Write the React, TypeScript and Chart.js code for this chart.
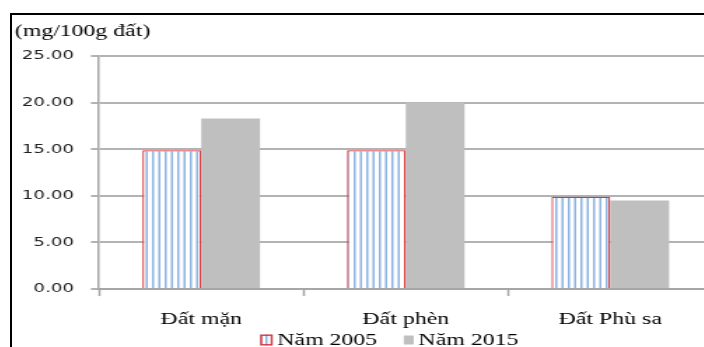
import React, { useEffect, useRef } from "react";
import { Chart, registerables } from "chart.js";

Chart.register(...registerables);

const categories: string[] = ["Đất mặn", "Đất phèn", "Đất Phù sa"];
const values2005: number[] = [14.9, 14.9, 9.9];
const values2015: number[] = [18.3, 20.0, 9.5];
const seriesLabels: string[] = ["Năm 2005", "Năm 2015"];
const unitLabel = "(mg/100g đất)";
const yTicks = { min: 0, max: 25, step: 5 };

const STRETCH = 1.4;
const CW = 543;
const CH = 332;
const SERIF = "'Liberation Serif', 'Times New Roman', serif";

function makeStripePattern(): CanvasPattern | string {
  const tile = document.createElement("canvas");
  tile.width = 9;
  tile.height = 10;
  const t = tile.getContext("2d");
  if (!t) return "#8db4e2";
  t.fillStyle = "#ffffff";
  t.fillRect(0, 0, 9, 10);
  t.fillStyle = "#8db4e2";
  t.fillRect(1, 0, 1.5, 10);
  t.fillRect(5.5, 0, 1.5, 10);
  const c = document.createElement("canvas").getContext("2d");
  const p = c ? c.createPattern(tile, "repeat") : null;
  return p || "#8db4e2";
}

// Legend drawn with tighter control over item spacing than the built-in one allows
const bottomLegend = {
  id: "bottomLegend",
  afterDraw(chart: any) {
    const ctx: CanvasRenderingContext2D = chart.ctx;
    const dsets = chart.data.datasets;
    const gapText = 3.4;
    const gapItem = 19;
    const cy = 325;
    ctx.save();
    ctx.font = `17px ${SERIF}`;
    ctx.textBaseline = "middle";
    ctx.textAlign = "left";
    const items = dsets.map((d: any) => {
      const bordered = !!d.borderWidth;
      return {
        d,
        bordered,
        bw: bordered ? 8.8 : 7.1,
        bh: bordered ? 11 : 9,
        tw: ctx.measureText(d.label).width,
      };
    });
    let total = 0;
    items.forEach((it: any, i: number) => {
      total += it.bw + gapText + it.tw + (i > 0 ? gapItem : 0);
    });
    let x = chart.width / 2 - 2 - total / 2;
    items.forEach((it: any) => {
      const d = it.d;
      const top = cy - it.bh / 2;
      ctx.fillStyle = d.backgroundColor;
      ctx.fillRect(x, top, it.bw, it.bh);
      if (it.bordered) {
        ctx.strokeStyle = d.borderColor;
        ctx.lineWidth = 1.4;
        ctx.strokeRect(x + 0.7, top + 0.7, it.bw - 1.4, it.bh - 1.4);
      }
      x += it.bw + gapText;
      ctx.fillStyle = "#000";
      ctx.fillText(d.label, x, cy + 1);
      x += it.tw + gapItem;
    });
    ctx.restore();
  },
};

export default function App() {
  const ref = useRef<HTMLCanvasElement | null>(null);

  useEffect(() => {
    if (!ref.current) return;
    const stripes = makeStripePattern();
    const gridColor = "#b3b3b3";
    const chart = new Chart(ref.current, {
      type: "bar",
      data: {
        labels: categories,
        datasets: [
          {
            label: seriesLabels[0],
            data: values2005,
            backgroundColor: stripes as any,
            borderColor: "#d9363a",
            borderWidth: 1.3,
            borderSkipped: "start",
            yAxisID: "y",
          },
          {
            label: seriesLabels[1],
            data: values2015,
            backgroundColor: "#bfbfbf",
            borderWidth: 0,
            yAxisID: "y",
          },
        ],
      },
      options: {
        responsive: false,
        animation: false,
        devicePixelRatio: 1,
        layout: { padding: { left: 2, right: 0, top: 0, bottom: 3.5 } },
        datasets: {
          bar: { categoryPercentage: 0.575, barPercentage: 1 },
        },
        plugins: {
          tooltip: { enabled: false },
          legend: { display: false },
          title: {
            display: true,
            text: unitLabel,
            align: "start",
            color: "#000",
            font: { family: SERIF, size: 17, weight: "normal" },
            padding: { top: 6, bottom: 14.6 },
          },
        },
        scales: {
          x: {
            type: "category",
            grid: {
              display: true,
              drawOnChartArea: false,
              drawTicks: true,
              tickLength: 7,
              tickWidth: 1.5,
              tickColor: "#a6a6a6",
              offset: true,
            },
            border: { display: true, color: "#a6a6a6", width: 2 },
            ticks: {
              color: "#000",
              font: { family: SERIF, size: 17 },
              padding: 13.5,
              maxRotation: 0,
            },
          },
          y: {
            type: "linear",
            position: "left",
            min: yTicks.min,
            max: yTicks.max,
            ticks: {
              stepSize: yTicks.step,
              color: "#222",
              font: { family: "'DejaVu Sans', sans-serif", size: 13 },
              padding: 12.1,
              callback: (v: any) => Number(v).toFixed(2),
            },
            grid: {
              color: gridColor,
              lineWidth: 2,
              tickLength: 5.7,
              tickColor: gridColor,
            },
            border: { display: true, color: "#a6a6a6", width: 1.5 },
            afterFit: (s: any) => {
              s.width = 60.1;
            },
          },
          pad: {
            type: "linear",
            position: "right",
            display: true,
            grid: { display: false },
            border: { display: false },
            ticks: { display: false },
            afterFit: (s: any) => {
              s.width = 42.6;
            },
          },
        },
      } as any,
      plugins: [bottomLegend],
    });
    return () => chart.destroy();
  }, []);

  return (
    <div
      style={{
        position: "fixed",
        left: 0,
        top: 0,
        width: 704,
        height: 347,
        overflow: "hidden",
        background: "#fff",
      }}
    >
      <div
        style={{
          position: "absolute",
          left: 10,
          top: 13,
          width: 720,
          height: 360,
          borderTop: "2px solid #000",
          borderLeft: "2px solid #000",
        }}
      />
      <div
        style={{
          position: "absolute",
          left: 12,
          top: 15,
          width: CW,
          height: CH,
          transform: `scaleX(${STRETCH})`,
          transformOrigin: "0 0",
        }}
      >
        <canvas ref={ref} width={CW} height={CH} style={{ width: CW, height: CH, display: "block" }} />
      </div>
    </div>
  );
}
